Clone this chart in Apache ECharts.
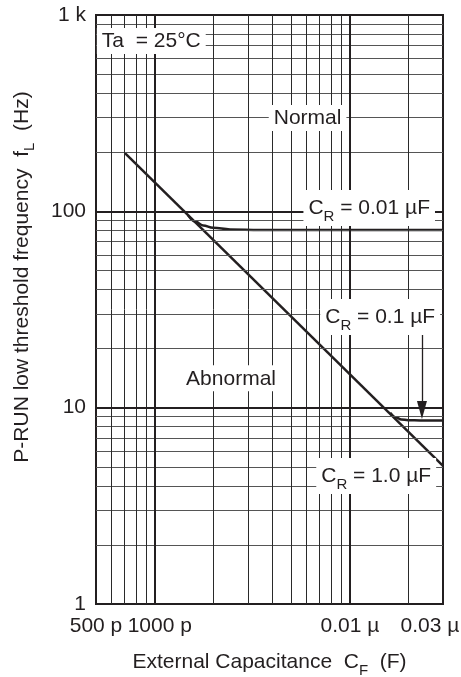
<!DOCTYPE html>
<html><head><meta charset="utf-8">
<script src="https://cdn.jsdelivr.net/npm/echarts@6/dist/echarts.min.js"></script>
<style>html,body{margin:0;padding:0;background:#fff}#c{width:461px;height:677px}</style>
</head><body><div id="c"></div><script>
// ---- tick labels ----
const xTickValues = [5e-10, 1e-9, 1e-8, 3e-8];
const xTickLabels = ['500 p', '1000 p', '0.01 \u00b5', '0.03 \u00b5'];
const yTickValues = [1, 10, 100, 1000];
const yTickLabels = ['1', '10', '100', '1 k'];
// ---- grid lines ----
const xMajorGrid = [1e-9, 1e-8];
const xMinorGrid = [6e-10, 7e-10, 8e-10, 9e-10, 2e-9, 3e-9, 4e-9, 5e-9, 6e-9, 7e-9, 8e-9, 9e-9, 2e-8];
const yMajorGrid = [10, 100];
const yMinorGrid = [2, 3, 4, 5, 6, 7, 8, 9, 20, 30, 40, 50, 60, 70, 80, 90, 200, 300, 400, 500, 600, 700, 800, 900];
// ---- curves (C in F, f in Hz) ----
const diagC = [7.04e-10, 3e-8];
const diagF = [198, 5.05];
const cr001C = [1.482e-9, 1.609e-9, 1.769e-9, 1.991e-9, 2.433e-9, 3.467e-9, 3e-8];
const cr001F = [95.4, 88.9, 84.8, 82.5, 80.9, 80.4, 80.4];
const cr01C = [1.609e-8, 1.728e-8, 1.833e-8, 1.99e-8, 2.3e-8, 3e-8];
const cr01F = [9.42, 8.92, 8.71, 8.63, 8.61, 8.60];
// ---- annotations ----
const annoText = ['Ta  = 25\u00b0C', 'Normal', 'C{s|R} = 0.01 \u00b5F', 'C{s|R} = 0.1 \u00b5F', 'Abnormal', 'C{s|R} = 1.0 \u00b5F'];
const annoC = [9.6e-10, 6.07e-9, 1.256e-8, 1.43e-8, 2.46e-9, 1.364e-8];
const annoF = [738, 299, 104, 29, 14.1, 4.49];
const arrowC = [2.34e-8, 2.34e-8];
const arrowF = [24, 9.73];

const ink = '#231f20';
const FONT = 'Liberation Sans';
const FS = 21;
const richSub = { s: { fontSize: 15, fontFamily: FONT, color: ink, verticalAlign: 'bottom', lineHeight: 31 } };

function pairs(a, b) { return a.map((v, i) => [v, b[i]]); }
function nearestLabel(v, vals, labs) {
  let best = 0, bd = Infinity;
  vals.forEach((t, i) => { const d = Math.abs(Math.log10(v) - Math.log10(t)); if (d < bd) { bd = d; best = i; } });
  return labs[best];
}

const X0 = 5e-10, X1 = 3e-8, Y0 = 1, Y1 = 1000;
const gridLines = [];
function vLine(v, color, width) { gridLines.push([{ coord: [v, Y0], lineStyle: { color, width, type: 'solid' } }, { coord: [v, Y1] }]); }
function hLine(v, color, width) { gridLines.push([{ coord: [X0, v], lineStyle: { color, width, type: 'solid' } }, { coord: [X1, v] }]); }
yMinorGrid.forEach(v => hLine(v, '#555', 1));
xMinorGrid.forEach(v => vLine(v, '#2a2a2a', 1));
xMajorGrid.forEach(v => vLine(v, ink, 2));
yMajorGrid.forEach(v => hLine(v, ink, 2.2));

const annoPoints = annoText.map((t, i) => ({
  coord: [annoC[i], annoF[i]], symbolSize: 0,
  label: { show: true, position: 'inside', formatter: t, fontSize: FS, fontFamily: FONT, color: ink,
    backgroundColor: '#fff', padding: [3, 5, 2, 5], rich: richSub }
}));

const chart = echarts.init(document.getElementById('c'), null, { renderer: 'canvas' });
chart.setOption({
  animation: false,
  backgroundColor: '#fff',
  grid: { left: 96, right: 18, top: 15, bottom: 73, containLabel: false, outerBoundsMode: 'none',
    show: true, borderColor: ink, borderWidth: 2, backgroundColor: 'transparent' },
  xAxis: {
    type: 'log', logBase: 10, min: X0, max: X1,
    axisLine: { show: false }, axisTick: { show: false }, splitLine: { show: false }, minorSplitLine: { show: false },
    axisLabel: {
      customValues: xTickValues, margin: 12, fontSize: FS, fontFamily: FONT, color: ink,
      formatter: v => {
        const l = nearestLabel(v, xTickValues, xTickLabels);
        if (l === xTickLabels[1]) return '{r|' + l + '}';
        if (l === xTickLabels[3]) return '{l|' + l + '}';
        return l;
      },
      rich: { r: { fontSize: FS, fontFamily: FONT, color: ink, padding: [0, 0, 0, 10] },
              l: { fontSize: FS, fontFamily: FONT, color: ink, padding: [0, 26, 0, 0] } }
    },
    name: 'External Capacitance  C{s|F}  (F)', nameLocation: 'middle', nameGap: 43,
    nameTextStyle: { fontSize: FS, fontFamily: FONT, color: ink, rich: richSub }
  },
  yAxis: {
    type: 'log', logBase: 10, min: Y0, max: Y1,
    axisLine: { show: false }, axisTick: { show: false }, splitLine: { show: false },
    axisLabel: { customValues: yTickValues, margin: 10, fontSize: FS, fontFamily: FONT, color: ink,
      formatter: v => nearestLabel(v, yTickValues, yTickLabels) }
  },
  graphic: [{
    type: 'text', x: 22, y: 277, rotation: Math.PI / 2,
    style: { text: 'P-RUN low threshold frequency  f{s|L}  (Hz)', font: FS + 'px "Liberation Sans"', fill: ink,
      align: 'center', verticalAlign: 'middle', rich: richSub }
  }],
  series: [
    { type: 'line', data: [], z: 1, silent: true,
      markLine: { silent: true, symbol: 'none', label: { show: false }, animation: false,
        lineStyle: { type: 'solid' }, data: gridLines } },
    { type: 'line', data: pairs(diagC, diagF), showSymbol: false, z: 3, lineStyle: { color: ink, width: 2.5 } },
    { type: 'line', data: pairs(cr001C, cr001F), showSymbol: false, smooth: 0.4, smoothMonotone: 'x', z: 3, lineStyle: { color: ink, width: 2.5 } },
    { type: 'line', data: pairs(cr01C, cr01F), showSymbol: false, smooth: 0.4, smoothMonotone: 'x', z: 3, lineStyle: { color: ink, width: 2.5 } },
    { type: 'line', data: [], z: 5, silent: true,
      markPoint: { silent: true, animation: false, data: annoPoints },
      markLine: { silent: true, animation: false, label: { show: false }, symbol: ['none', 'triangle'], symbolSize: [0, 12],
        lineStyle: { color: ink, width: 1.3, type: 'solid' },
        data: [[{ coord: [arrowC[0], arrowF[0]], symbol: 'none' },
                { coord: [arrowC[1], arrowF[1]], symbol: 'triangle', symbolSize: [10, 18] }]] } }
  ]
});
</script></body></html>
